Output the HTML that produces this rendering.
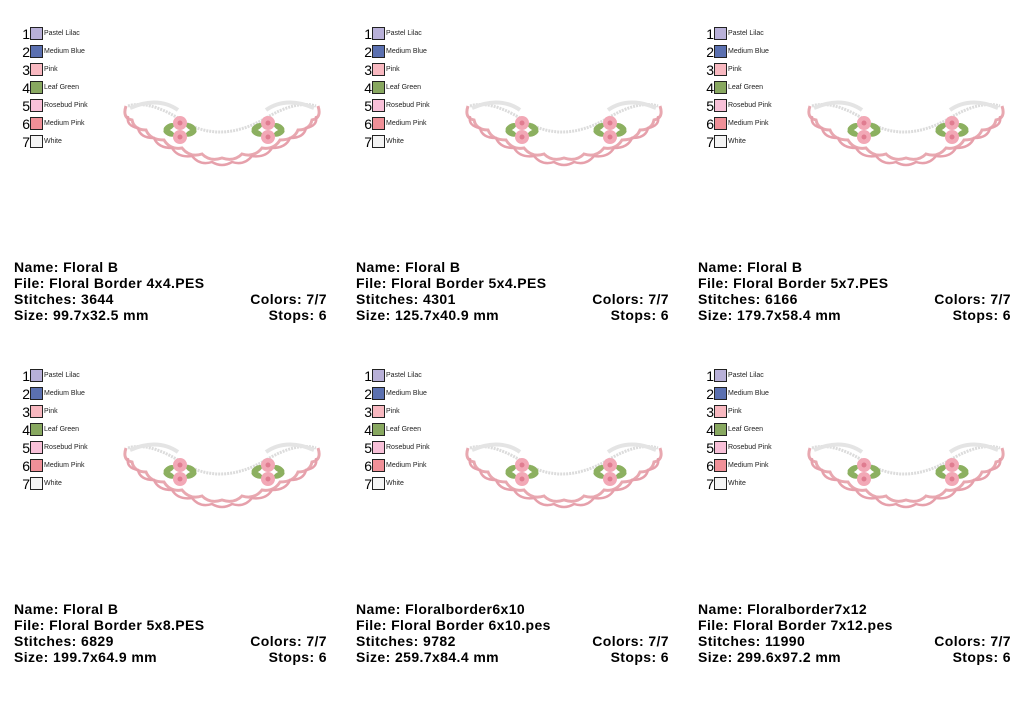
<!DOCTYPE html>
<html><head><meta charset="utf-8"><style>
body{margin:0;width:1024px;height:710px;background:#fff;position:relative;overflow:hidden;font-family:"Liberation Sans",Arial,sans-serif}
.p{position:absolute;width:342px;height:342px}
.lg{position:absolute;left:19px;top:27px}
.r{height:18px;position:relative;white-space:nowrap}
.n{position:absolute;left:0;top:-1px;font-size:14px;width:11px;text-align:right;color:#000}
.b{position:absolute;left:11px;top:0;width:11px;height:11px;border:1px solid #222}
.t{position:absolute;left:25px;top:3px;font-size:7px;color:#222;white-space:nowrap}
.tx{position:absolute;left:14px;top:259px;width:313px;font-weight:bold;font-size:14px;line-height:16px;color:#000;letter-spacing:0.4px}
.tx div{position:relative;height:16px;white-space:nowrap}
.tx span{position:absolute;right:0}
svg.d{position:absolute;left:118px;top:96px}
</style></head><body>
<svg width="0" height="0" style="position:absolute"><defs>
<g id="fl"><g fill="#8cb060"><ellipse cx="-11" cy="-1" rx="6" ry="3" transform="rotate(-30 -11 -1)"/><ellipse cx="-11" cy="5" rx="6" ry="3" transform="rotate(25 -11 5)"/><ellipse cx="11" cy="-1" rx="6" ry="3" transform="rotate(30 11 -1)"/><ellipse cx="11" cy="5" rx="6" ry="3" transform="rotate(-25 11 5)"/></g>
<circle cx="0" cy="-5" r="7" fill="#f2a8b6"/><circle cx="0" cy="-5" r="2.5" fill="#e07c90"/><circle cx="0" cy="9" r="7" fill="#f2a8b6"/><circle cx="0" cy="9" r="2.5" fill="#e07c90"/></g>
<g id="ds">
<path d="M6,14 Q20,4 100,10 Q180,4 204,14 Q200,40 170,52 Q140,62 105,66 Q70,62 40,52 Q10,40 6,14Z" fill="#fff"/>
<path d="M8,10 Q4,22 14,24 Q16,34 28,34 Q32,44 46,44 Q52,54 64,52 Q72,62 84,58 Q92,66 104,62 Q116,66 124,58 Q136,62 144,52 Q156,54 162,44 Q176,44 180,34 Q192,34 194,24 Q204,22 200,10" fill="none" stroke="#e8a8b0" stroke-width="3"/>
<path d="M10,20 Q8,30 20,32 Q22,42 36,42 Q40,52 54,52 Q60,62 74,60 Q82,70 94,66 Q104,72 114,66 Q126,70 134,60 Q148,62 154,52 Q168,52 172,42 Q186,42 188,32 Q200,30 198,20" fill="none" stroke="#e6a0ab" stroke-width="2.5"/>
<path d="M10,10 Q30,4 60,22 Q100,50 148,22 Q178,4 198,10" fill="none" stroke="#dcdcdc" stroke-width="3" stroke-dasharray="2 1"/>
<path d="M12,12 Q40,0 60,14 M148,14 Q168,0 196,12" fill="none" stroke="#e4e4e4" stroke-width="4"/>
<use href="#fl" x="62" y="32"/><use href="#fl" x="150" y="32"/>
</g></defs></svg>
<script>
const P=[[0,0,"Floral B","Floral Border 4x4.PES","3644","99.7x32.5 mm"],[342,0,"Floral B","Floral Border 5x4.PES","4301","125.7x40.9 mm"],[684,0,"Floral B","Floral Border 5x7.PES","6166","179.7x58.4 mm"],[0,342,"Floral B","Floral Border 5x8.PES","6829","199.7x64.9 mm"],[342,342,"Floralborder6x10","Floral Border 6x10.pes","9782","259.7x84.4 mm"],[684,342,"Floralborder7x12","Floral Border 7x12.pes","11990","299.6x97.2 mm"]];
const C=[["#b8b0d8","Pastel Lilac"],["#5b70b0","Medium Blue"],["#f8b8c0","Pink"],["#88a860","Leaf Green"],["#f8c0d8","Rosebud Pink"],["#f09098","Medium Pink"],["#f4f4f4","White"]];
let h="";
for(const p of P){h+=`<div class="p" style="left:${p[0]}px;top:${p[1]}px"><div class="lg">`;
C.forEach((c,i)=>{h+=`<div class="r"><span class="n">${i+1}</span><span class="b" style="background:${c[0]}"></span><span class="t">${c[1]}</span></div>`});
h+=`</div><svg class="d" width="212" height="76"><use href="#ds"/></svg><div class="tx"><div>Name: ${p[2]}</div><div>File: ${p[3]}</div><div>Stitches: ${p[4]}<span>Colors: 7/7</span></div><div>Size: ${p[5]}<span>Stops: 6</span></div></div></div>`;}
document.write(h);
</script>
</body></html>
